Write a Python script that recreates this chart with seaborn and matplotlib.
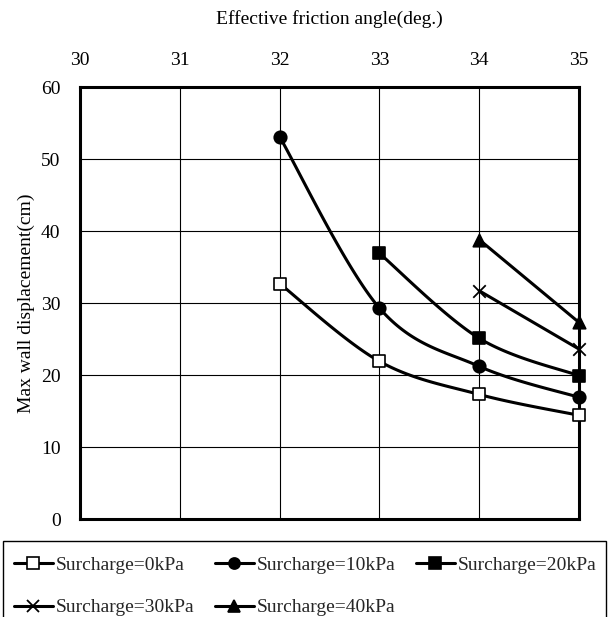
import numpy as np
import pandas as pd
import matplotlib
matplotlib.use("Agg")
import matplotlib.pyplot as plt
from matplotlib.lines import Line2D
from matplotlib.patches import Rectangle
import seaborn as sns

# ---- data ----
series_names = ["Surcharge=0kPa", "Surcharge=10kPa", "Surcharge=20kPa",
                "Surcharge=30kPa", "Surcharge=40kPa"]
angles_0 = [32, 33, 34, 35]
disp_0 = [32.7, 21.9, 17.3, 14.4]
angles_10 = [32, 33, 34, 35]
disp_10 = [53.1, 29.3, 21.2, 16.9]
angles_20 = [33, 34, 35]
disp_20 = [36.9, 25.1, 19.9]
angles_30 = [34, 35]
disp_30 = [31.7, 23.6]
angles_40 = [34, 35]
disp_40 = [38.8, 27.3]
x_ticks = [30, 31, 32, 33, 34, 35]
y_ticks = [0, 10, 20, 30, 40, 50, 60]

all_x = [angles_0, angles_10, angles_20, angles_30, angles_40]
all_y = [disp_0, disp_10, disp_20, disp_30, disp_40]
markers = ["s", "o", "s", "x", "^"]
facecols = ["white", "black", "black", "none", "black"]
msizes = [9, 9, 9, 9, 9]

def smooth(xs, ys, n=40):
    """Excel-like smoothed line (Catmull-Rom Bezier) through the points."""
    P = np.column_stack([xs, ys]).astype(float)
    if len(P) < 3:
        return P[:, 0], P[:, 1]
    ext = np.vstack([P[0], P, P[-1]])
    out = []
    for i in range(1, len(ext) - 2):
        p0, p1, p2, p3 = ext[i - 1], ext[i], ext[i + 1], ext[i + 2]
        c1 = p1 + (p2 - p0) / 6.0
        c2 = p2 - (p3 - p1) / 6.0
        t = np.linspace(0, 1, n)[:, None]
        seg = ((1 - t) ** 3) * p1 + 3 * ((1 - t) ** 2) * t * c1 + 3 * (1 - t) * t ** 2 * c2 + t ** 3 * p2
        out.append(seg if i == 1 else seg[1:])
    out = np.vstack(out)
    return out[:, 0], out[:, 1]

sns.set_theme(style="white")
plt.rcParams["font.family"] = ["Liberation Serif", "DejaVu Serif"]
FS = 14

fig = plt.figure(figsize=(6.13, 6.17), dpi=100)
W, H = 613, 617
ax = fig.add_axes([80 / W, 1 - 519 / H, (579 - 80) / W, (519 - 87) / H])

for name, xs, ys, m, fc, ms in zip(series_names, all_x, all_y, markers, facecols, msizes):
    sx, sy = smooth(xs, ys)
    d = pd.DataFrame({"x": sx, "y": sy})
    sns.lineplot(data=d, x="x", y="y", sort=False, ax=ax, color="black",
                 linewidth=2.2, zorder=3)
    pts = pd.DataFrame({"x": xs, "y": ys})
    if m == "x":
        sns.scatterplot(data=pts, x="x", y="y", ax=ax, marker="x", color="black",
                        s=ms ** 2, linewidth=1.3, zorder=4, clip_on=False)
    else:
        sns.scatterplot(data=pts, x="x", y="y", ax=ax, marker=m, facecolor=fc,
                        edgecolor="black", s=ms ** 2, linewidth=1.2, zorder=4,
                        clip_on=False)

ax.set_xlim(30, 35)
ax.set_ylim(0, 60)
ax.set_xticks(x_ticks)
ax.set_yticks(y_ticks)
ax.xaxis.tick_top()
ax.xaxis.set_label_position("top")
ax.tick_params(axis="both", length=0, labelsize=FS, colors="black")
ax.tick_params(axis="x", pad=13)
ax.tick_params(axis="y", pad=14)
ax.grid(True, color="black", linewidth=0.8)
ax.set_axisbelow(True)
for sp in ax.spines.values():
    sp.set_color("black")
    sp.set_linewidth(2.2)
ax.set_xlabel("Effective friction angle(deg.)", fontsize=FS, labelpad=20, color="black")
ax.set_ylabel("Max wall displacement(cm)", fontsize=FS, labelpad=4, color="black")

# legend box
fig.patches.append(Rectangle((3 / W, -0.05), (606 - 3) / W, (1 - 541 / H) + 0.05,
                             transform=fig.transFigure, fill=False,
                             edgecolor="black", linewidth=1.0))
handles = []
for name, m, fc in zip(series_names, markers, facecols):
    if m == "x":
        h = Line2D([], [], color="black", lw=2.2, marker="x", markersize=9,
                   markeredgewidth=1.3)
    else:
        h = Line2D([], [], color="black", lw=2.2, marker=m, markersize=8,
                   markerfacecolor=fc, markeredgecolor="black", markeredgewidth=1.2)
    handles.append(h)
# matplotlib fills legend columns first; reorder so rows read 0,10,20 / 30,40
order = [0, 3, 1, 4, 2]
fig.legend([handles[i] for i in order], [series_names[i] for i in order],
           loc="upper left", bbox_to_anchor=(14 / W, 1 - 556 / H), ncol=3,
           frameon=False, fontsize=FS, handlelength=2.0, handletextpad=0.15,
           columnspacing=1.05, labelspacing=1.3, borderpad=0, borderaxespad=0)

fig.savefig("out.png", dpi=100)
